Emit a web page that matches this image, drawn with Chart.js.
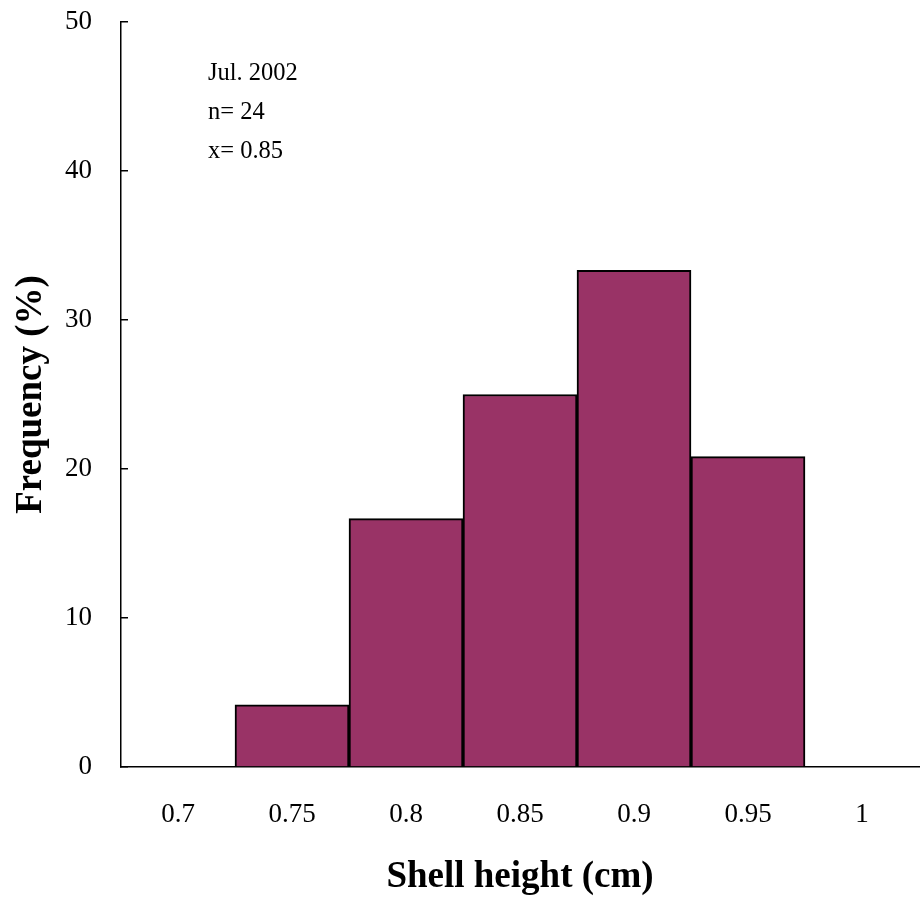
<!DOCTYPE html>
<html>
<head>
<meta charset="utf-8">
<script src="https://cdn.jsdelivr.net/npm/chart.js@4.4.1/dist/chart.umd.min.js"></script>
<style>
  html, body { margin: 0; padding: 0; background: #fff; }
  #wrap { width: 921px; height: 902px; }
</style>
</head>
<body>
<div id="wrap"><canvas id="histChart" width="921" height="902"></canvas></div>
<script>
// Shell height classes (cm) and frequency (%)
const heightClasses = ['0.7', '0.75', '0.8', '0.85', '0.9', '0.95', '1'];
const frequency = [0, 4.17, 16.67, 25.0, 33.33, 20.83, 0];
const yTicks = [0, 10, 20, 30, 40, 50];
const infoLines = ['Jul. 2002', 'n= 24', 'x= 0.85'];

const serif = "'Liberation Serif', 'Times New Roman', serif";

// small text block in the upper left of the plot
const infoText = {
    id: 'infoText',
    afterDraw: function(chart) {
        const ctx = chart.ctx;
        ctx.save();
        ctx.fillStyle = '#000';
        ctx.font = '24.5px ' + serif;
        ctx.textBaseline = 'alphabetic';
        ctx.textAlign = 'left';
        infoLines.forEach(function(line, i) {
            ctx.fillText(line, 208, 80 + i * 39);
        });
        ctx.restore();
    }
};

const ctx = document.getElementById('histChart').getContext('2d');
new Chart(ctx, {
    type: 'bar',
    data: {
        labels: heightClasses,
        datasets: [{
            data: frequency,
            backgroundColor: '#993366',
            borderColor: '#000',
            borderWidth: 2,
            barPercentage: 1.0,
            categoryPercentage: 1.0
        }]
    },
    options: {
        responsive: false,
        animation: false,
        layout: { padding: { left: 0, right: 2, top: 22, bottom: 0 } },
        plugins: {
            legend: { display: false },
            tooltip: { enabled: false }
        },
        scales: {
            x: {
                grid: { display: false, drawTicks: false },
                border: { display: true, color: '#000', width: 1.5 },
                ticks: {
                    color: '#000',
                    font: { family: serif, size: 27 },
                    padding: 32
                },
                title: {
                    display: true,
                    text: 'Shell height (cm)',
                    color: '#000',
                    font: { family: serif, size: 37, weight: 'bold' },
                    padding: { top: 0, bottom: 2 }
                },
                afterFit: function(scale) {
                    scale.height = 135;
                    scale.paddingLeft = 0;
                    scale.paddingRight = 0;
                }
            },
            y: {
                min: 0,
                max: 50,
                afterBuildTicks: function(scale) {
                    scale.ticks = yTicks.map(function(v) { return { value: v }; });
                },
                grid: { drawOnChartArea: false, drawTicks: true, tickLength: -7, color: '#000', lineWidth: 1.5 },
                border: { display: true, color: '#000', width: 1.5 },
                ticks: {
                    color: '#000',
                    font: { family: serif, size: 27 },
                    padding: 36
                },
                title: {
                    display: true,
                    text: 'Frequency (%)',
                    color: '#000',
                    font: { family: serif, size: 37, weight: 'bold' },
                    padding: { top: 9, bottom: 0 }
                },
                afterFit: function(scale) {
                    scale.width = 121;
                    scale.paddingTop = 0;
                    scale.paddingBottom = 0;
                }
            }
        }
    },
    plugins: [infoText]
});
</script>
</body>
</html>
